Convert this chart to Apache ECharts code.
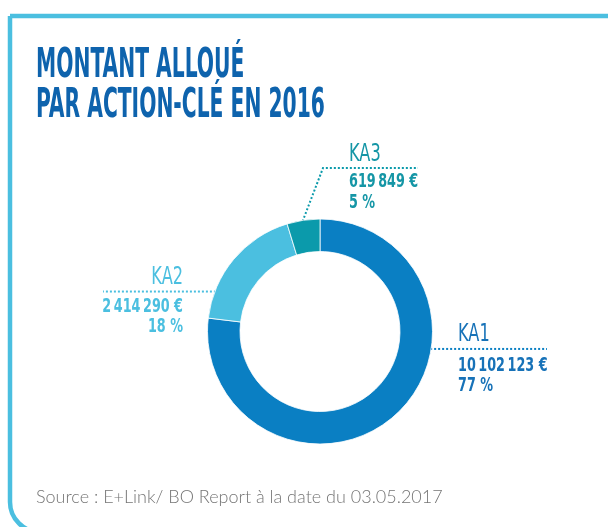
<!DOCTYPE html>
<html>
<head>
<meta charset="utf-8">
<script src="https://cdn.jsdelivr.net/npm/echarts@6/dist/echarts.min.js"></script>
<style>
    html, body { margin: 0; padding: 0; background: #fff; }
    #chart { width: 608px; height: 527px; }
</style>
</head>
<body>
<div id="chart"></div>
<script>
// data
const categories = ['KA1', 'KA2', 'KA3'];
const amounts = [10102123, 2414290, 619849];
const sliceColors = ['#0a7fc3', '#4bbfe0', '#0b9aab'];
const labelColors = ['#1772b8', '#4bbfe0', '#1596a6'];
const titleText = 'MONTANT ALLOUÉ\nPAR ACTION-CLÉ EN 2016';
const sourceText = 'Source : E+Link/ BO Report à la date du 03.05.2017';

// layout
const CX = 320, CY = 331.5, R_IN = 80, R_OUT = 112.5;
const condensed = '"DejaVu Sans Condensed", "Liberation Sans Narrow", sans-serif';
// leader line: anchor angle (deg, clockwise from 12 o'clock), bend point, end x
// label text: x, baselines of name and first value line
const labelSpots = [
    { angle: 99, bend: null, endX: 547, x: 458, nameBase: 342, valBase: 372, valGap: 20, align: 'left' },
    { angle: 291, bend: null, endX: 103, x: 183, nameBase: 285, valBase: 313, valGap: 20, align: 'right' },
    { angle: 351, bend: [323, 168], endX: 418, x: 349, nameBase: 162, valBase: 188, valGap: 21, align: 'left' }
];

function fmtAmount(v) {
    return String(v).replace(/\B(?=(\d{3})+(?!\d))/g, '\u2009');
}

function polar(deg, r) {
    const a = deg * Math.PI / 180;
    return [CX + r * Math.sin(a), CY - r * Math.cos(a)];
}

const total = amounts.reduce((a, b) => a + b, 0);

// condensed label texts (font squeezed horizontally like the original)
const labelTexts = [];
categories.forEach((name, i) => {
    const s = labelSpots[i];
    labelTexts.push({
        type: 'text',
        x: s.x,
        y: s.nameBase - 25 * 0.3,
        scaleX: 0.72,
        silent: true,
        style: {
            text: name,
            font: '25px ' + condensed,
            fill: labelColors[i],
            align: s.align,
            verticalAlign: 'middle'
        }
    });
    labelTexts.push({
        type: 'text',
        x: s.x,
        y: s.valBase - s.valGap / 2 - 20 * 0.3,
        scaleX: 0.71,
        silent: true,
        style: {
            text: fmtAmount(amounts[i]) + ' €\n' + Math.round(amounts[i] / total * 100) + ' %',
            font: 'bold 20px ' + condensed,
            lineHeight: s.valGap,
            fill: labelColors[i],
            align: s.align,
            verticalAlign: 'top'
        }
    });
});

const chart = echarts.init(document.getElementById('chart'));

chart.setOption({
    animation: false,
    graphic: [
        {
            type: 'rect',
            shape: { x: 10, y: 16, width: 700, height: 516, r: [0, 0, 0, 30] },
            style: { fill: null, stroke: '#4bbfe0', lineWidth: 4.5 },
            silent: true
        },
        {
            type: 'text',
            x: 36,
            y: 46,
            scaleX: 0.55,
            style: {
                text: titleText,
                font: 'bold 41px ' + condensed,
                lineHeight: 40,
                fill: '#0e63ad',
                verticalAlign: 'top'
            }
        },
        {
            type: 'text',
            x: 36,
            y: 506,
            style: {
                text: sourceText,
                font: '300 18px Lato, "Open Sans", sans-serif',
                fill: '#757575',
                verticalAlign: 'bottom'
            }
        }
    ].concat(labelTexts),
    series: [{
        type: 'pie',
        center: [CX, CY],
        radius: [R_IN, R_OUT],
        startAngle: 90,
        clockwise: true,
        avoidLabelOverlap: false,
        silent: true,
        itemStyle: { borderColor: '#fff', borderWidth: 0.8 },
        // label text is drawn condensed above; the pie label keeps the leader lines
        label: {
            show: true,
            formatter: '{b}',
            color: 'rgba(0,0,0,0)'
        },
        labelLine: {
            show: true,
            lineStyle: { width: 2, type: [2, 2] }
        },
        labelLayout: (params) => {
            const s = labelSpots[params.dataIndex];
            const start = polar(s.angle, R_OUT - 1);
            const bend = s.bend || start;
            return {
                x: s.x,
                y: s.nameBase,
                align: s.align,
                labelLinePoints: [start, bend, [s.endX, bend[1]]]
            };
        },
        data: categories.map((name, i) => ({
            name: name,
            value: amounts[i],
            itemStyle: { color: sliceColors[i] }
        }))
    }]
});
</script>
</body>
</html>
